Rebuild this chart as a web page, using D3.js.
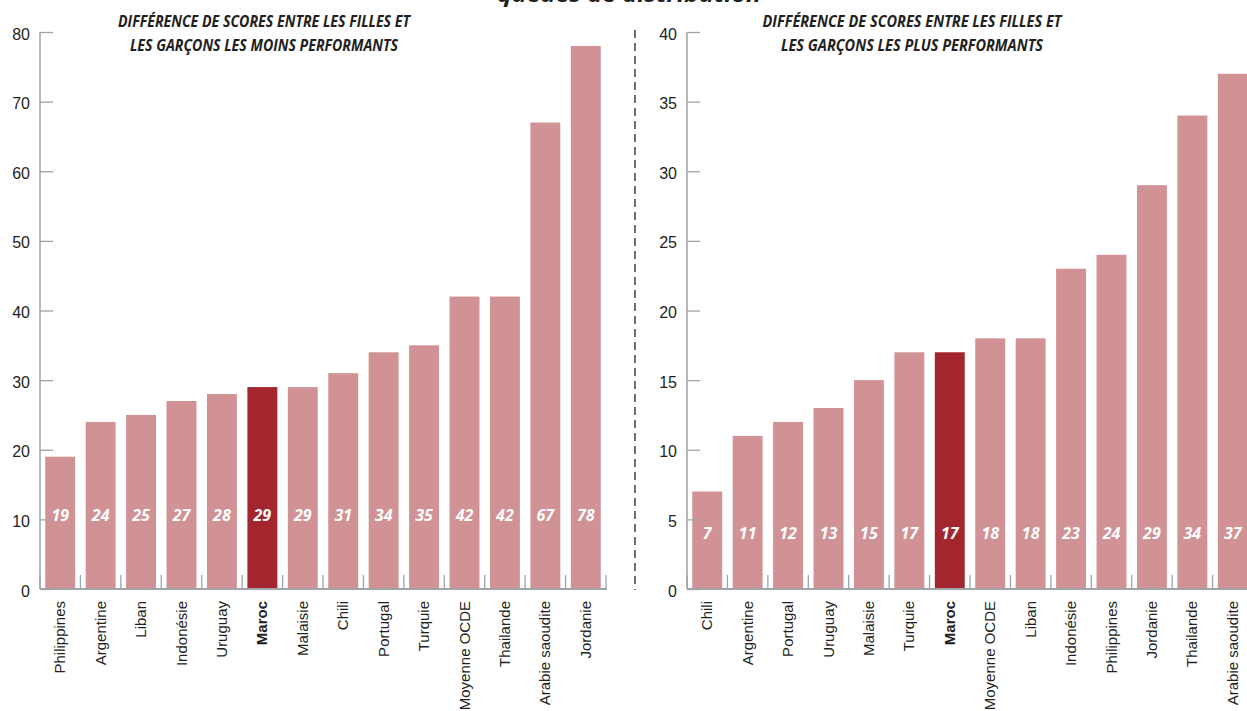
<!DOCTYPE html>
<html>
<head>
<meta charset="utf-8">
<script src="https://cdn.jsdelivr.net/npm/d3@7"></script>
<style>
  body { margin: 0; background: #fff; }
  svg { display: block; }
  .tick-label { font-family: "Liberation Sans", Arial, sans-serif; font-size: 16px; fill: #231f20; }
  .cat-label { font-family: "Liberation Sans", Arial, sans-serif; font-size: 15px; fill: #231f20; }
  .panel-title { font-family: "Open Sans", sans-serif; font-weight: bold; font-style: italic; font-size: 16px; fill: #231f20; }
  .val-label { font-family: "Open Sans", sans-serif; font-weight: bold; font-style: italic; font-size: 16px; fill: #fff; }
</style>
</head>
<body>
<div class="chart"></div>
<script>
// Data
var leftCountries = ["Philippines", "Argentine", "Liban", "Indonésie", "Uruguay", "Maroc", "Malaisie",
  "Chili", "Portugal", "Turquie", "Moyenne OCDE", "Thailande", "Arabie saoudite", "Jordanie"];
var leftValues = [19, 24, 25, 27, 28, 29, 29, 31, 34, 35, 42, 42, 67, 78];
var leftTicks = [0, 10, 20, 30, 40, 50, 60, 70, 80];

var rightCountries = ["Chili", "Argentine", "Portugal", "Uruguay", "Malaisie", "Turquie", "Maroc",
  "Moyenne OCDE", "Liban", "Indonésie", "Philippines", "Jordanie", "Thailande", "Arabie saoudite"];
var rightValues = [7, 11, 12, 13, 15, 17, 17, 18, 18, 23, 24, 29, 34, 37];
var rightTicks = [0, 5, 10, 15, 20, 25, 30, 35, 40];

var leftTitle = ["DIFFÉRENCE DE SCORES ENTRE LES FILLES ET", "LES GARÇONS LES MOINS PERFORMANTS"];
var rightTitle = ["DIFFÉRENCE DE SCORES ENTRE LES FILLES ET", "LES GARÇONS LES PLUS PERFORMANTS"];
var topTitle = "queues de distribution";
var highlight = "Maroc";

var svgWidth = 1247;
var svgHeight = 711;

var svg = d3.select(".chart")
  .append("svg")
  .attr("width", svgWidth)
  .attr("height", svgHeight);

var barColor = "#d09295";
var hiColor = "#a3262e";
var axisColor = "#9ea3a8";

// heading cut off at the very top, as in the source picture
svg.append("text")
  .attr("x", 629)
  .attr("y", 2)
  .attr("text-anchor", "middle")
  .style("font-family", "Open Sans, sans-serif")
  .style("font-weight", "bold")
  .style("font-style", "italic")
  .style("font-size", "22px")
  .style("fill", "#231f20")
  .attr("textLength", 264)
  .attr("lengthAdjust", "spacingAndGlyphs")
  .text(topTitle);

function drawPanel(opts) {
  var g = svg.append("g");

  var x = d3.scaleBand()
    .domain(opts.cats)
    .range([opts.x0, opts.x0 + 566])
    .paddingInner(0.26)
    .paddingOuter(0.13);

  var y = d3.scaleLinear()
    .domain([0, opts.max])
    .range([589, 32]);

  // bars
  g.selectAll("rect.bar")
    .data(opts.values)
    .enter().append("rect")
    .attr("class", "bar")
    .attr("x", function(d, i) { return x(opts.cats[i]); })
    .attr("width", x.bandwidth())
    .attr("y", function(d) { return y(d); })
    .attr("height", function(d) { return y(0) - y(d); })
    .attr("fill", function(d, i) { return opts.cats[i] === highlight ? hiColor : barColor; });

  // y axis, ticks point inward
  var leftAxis = d3.axisRight(y)
    .tickValues(opts.ticks)
    .tickSize(13)
    .tickFormat("");
  var ya = g.append("g")
    .attr("transform", "translate(" + opts.x0 + ",0)")
    .call(leftAxis);
  ya.select(".domain").remove();
  ya.selectAll("line").attr("stroke", axisColor).attr("stroke-width", 1.3);
  g.append("line")
    .attr("x1", opts.x0).attr("x2", opts.x0)
    .attr("y1", y(opts.max)).attr("y2", y(0))
    .attr("stroke", axisColor).attr("stroke-width", 1.5);

  g.selectAll("text.tick-label")
    .data(opts.ticks)
    .enter().append("text")
    .attr("class", "tick-label")
    .attr("x", opts.x0 - 10)
    .attr("y", function(d) { return y(d) + 2; })
    .attr("dy", "0.35em")
    .attr("text-anchor", "end")
    .text(function(d) { return d; });

  // x axis baseline and separators
  g.append("line")
    .attr("x1", opts.x0).attr("x2", opts.x0 + 567)
    .attr("y1", y(0)).attr("y2", y(0))
    .attr("stroke", axisColor).attr("stroke-width", 2);

  var step = x.step();
  var bounds = d3.range(opts.cats.length + 1).map(function(i) { return opts.x0 + i * step; });
  g.selectAll("line.sep")
    .data(bounds)
    .enter().append("line")
    .attr("class", "sep")
    .attr("x1", function(d) { return d; })
    .attr("x2", function(d) { return d; })
    .attr("y1", y(0) - 14)
    .attr("y2", y(0))
    .attr("stroke", axisColor)
    .attr("stroke-width", 1.3);

  // value labels
  g.selectAll("text.val-label")
    .data(opts.values)
    .enter().append("text")
    .attr("class", "val-label")
    .attr("x", function(d, i) { return x(opts.cats[i]) + x.bandwidth() / 2; })
    .attr("y", opts.labelY)
    .attr("text-anchor", "middle")
    .text(function(d) { return d; });

  // category labels
  g.selectAll("text.cat-label")
    .data(opts.cats)
    .enter().append("text")
    .attr("class", "cat-label")
    .attr("transform", function(d) {
      return "translate(" + (x(d) + x.bandwidth() / 2 + 5) + ",601) rotate(-90)";
    })
    .attr("text-anchor", "end")
    .style("font-weight", function(d) { return d === highlight ? "bold" : "normal"; })
    .text(function(d) { return d; });

  // panel title
  g.selectAll("text.panel-title")
    .data(opts.title)
    .enter().append("text")
    .attr("class", "panel-title")
    .attr("x", opts.titleX)
    .attr("y", function(d, i) { return 27 + i * 24; })
    .attr("text-anchor", "middle")
    .attr("textLength", function(d, i) { return opts.titleW[i]; })
    .attr("lengthAdjust", "spacingAndGlyphs")
    .text(function(d) { return d; });
}

drawPanel({
  cats: leftCountries, values: leftValues, ticks: leftTicks, max: 80,
  x0: 40, labelY: 521, title: leftTitle, titleX: 264, titleW: [292, 268]
});

drawPanel({
  cats: rightCountries, values: rightValues, ticks: rightTicks, max: 40,
  x0: 687, labelY: 539, title: rightTitle, titleX: 912, titleW: [299, 262]
});

// dashed separator between the two panels
svg.append("line")
  .attr("x1", 635).attr("x2", 635)
  .attr("y1", 30).attr("y2", 590)
  .attr("stroke", "#231f20")
  .attr("stroke-width", 1.3)
  .attr("stroke-dasharray", "8,5");
</script>
</body>
</html>
